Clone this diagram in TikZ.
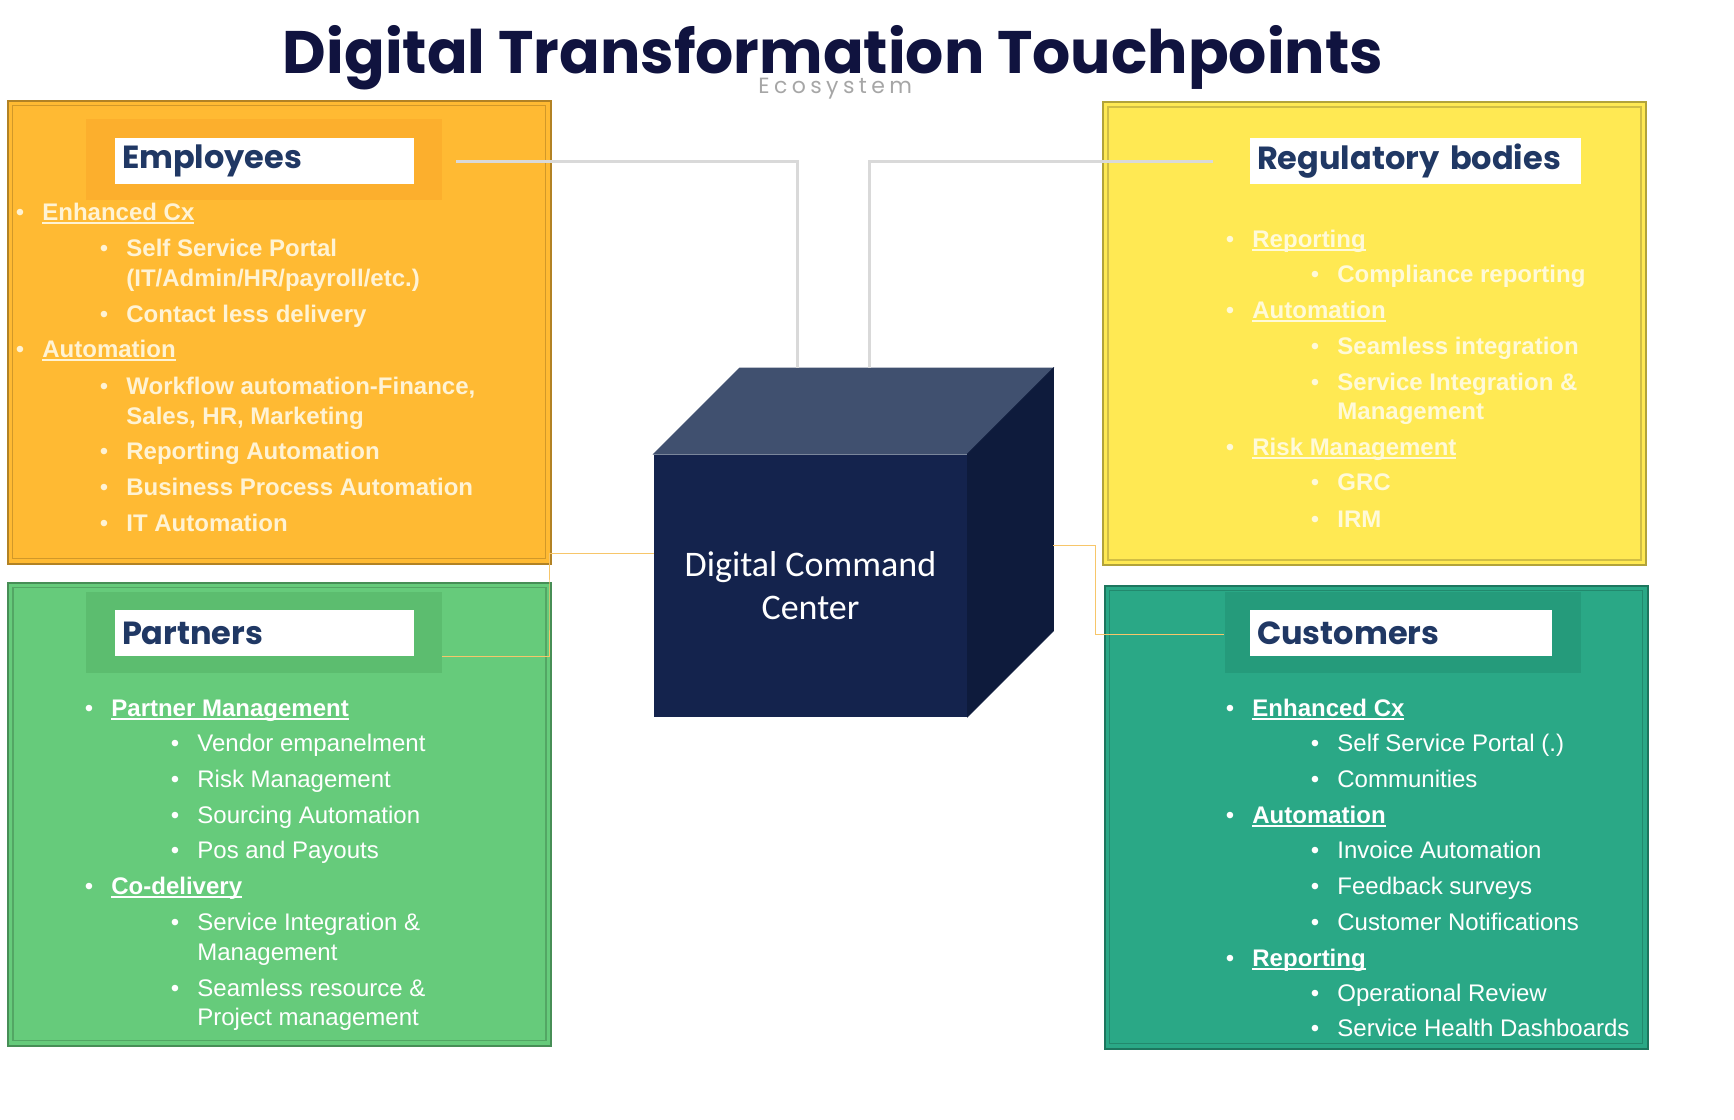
\documentclass[tikz,border=0pt]{standalone}
\usepackage{fontspec}
\usepackage{tikz}
\usetikzlibrary{positioning,calc}
\newfontfamily\popfont{Poppins}
\newfontfamily\ecofont[LetterSpace=20]{Poppins}
\newfontfamily\arialfont{Liberation Sans}
\newfontfamily\calfont{Carlito}

\definecolor{titlenavy}{HTML}{10133F}
\definecolor{ecogrey}{HTML}{A6A6A6}
\definecolor{labelnavy}{HTML}{203864}
\definecolor{empfill}{HTML}{FFBA33}
\definecolor{empband}{HTML}{FCAF2D}
\definecolor{empink}{HTML}{FFF3D4}
\definecolor{regfill}{HTML}{FFE953}
\definecolor{regink}{HTML}{FFFAD8}
\definecolor{partfill}{HTML}{66CB7B}
\definecolor{partband}{HTML}{5CBD6F}
\definecolor{custfill}{HTML}{2AA886}
\definecolor{custband}{HTML}{259B7B}
\definecolor{cubefront}{HTML}{14234D}
\definecolor{cubetop}{HTML}{40506F}
\definecolor{cubeside}{HTML}{0E1B3C}
\definecolor{linkgrey}{HTML}{D9D9D9}
\definecolor{linkgold}{HTML}{F7C66A}

\newcommand{\ulbox}[1]{\setbox0=\hbox{#1}\rlap{\rule[-2pt]{\wd0}{0.8pt}}\box0}

% one bulleted list: prefix, level-1 bullet x, level-2 bullet x, sub-item weight, ink, items
\newcommand{\pointlist}[6]{%
  \foreach \lv/\yy/\txt [count=\n] in {#6}{%
    \ifnum\lv=1
      \node[bul, text=#5] (#1-b\n) at (#2,\yy) {\textbullet};
      \node[point, text=#5, font=\arialfont\bfseries\fontsize{12}{12}\selectfont] (#1-t\n) at (#2+22,\yy) {\ulbox{\txt}};
    \fi
    \ifnum\lv=2
      \node[bul, text=#5] (#1-b\n) at (#3,\yy) {\textbullet};
      \node[point, text=#5, font=\arialfont#4\fontsize{12}{12}\selectfont] (#1-t\n) at (#3+22,\yy) {\txt};
    \fi
    \ifnum\lv=0
      \node[point, text=#5, font=\arialfont#4\fontsize{12}{12}\selectfont] (#1-t\n) at (#3+22,\yy) {\txt};
    \fi
  }}

\tikzset{
  panel/.style={fill=#1, draw=#1!70!black, line width=1pt, inner sep=0,
    minimum width=271.5pt, minimum height=231.5pt},
  bevel/.style={draw=black, draw opacity=0.18, line width=0.6pt},
  band/.style={fill=#1, inner sep=0, minimum width=178pt, minimum height=40.5pt},
  labelbox/.style={fill=white, text=labelnavy, inner xsep=3.5pt, inner ysep=0,
    minimum height=23pt, align=left, font=\popfont\bfseries\fontsize{16}{16}\selectfont},
  bul/.style={anchor=base, inner sep=0, font=\arialfont\fontsize{12}{12}\selectfont},
  point/.style={anchor=base west, inner sep=0},
  cubeface/.style={fill=cubefront, inner sep=0, minimum width=156.5pt, minimum height=131pt,
    align=center, text=white, font=\calfont\fontsize{18}{21.5}\selectfont},
  greyline/.style={draw=linkgrey, line width=1.5pt},
  thinline/.style={draw=linkgold, line width=0.5pt}
}

\begin{document}
\begin{tikzpicture}[x=0.5pt, y=-0.5pt]
  \useasboundingbox (0,0) rectangle (1734,1119);

  % heading
  \node[anchor=base, inner sep=0, text=titlenavy, font=\popfont\bfseries\fontsize{30}{30}\selectfont]
    (title) at (833,73) {Digital Transformation Touchpoints};
  \node[anchor=base west, inner sep=0, text=ecogrey, font=\ecofont\fontsize{11}{11}\selectfont]
    (eco) at (758,93) {Ecosystem};

  % the four touchpoint panels
  \node[panel=empfill] (emp) at (279,332) {};
  \node[panel=regfill] (reg) at (1374.5,333.5) {};
  \node[panel=partfill] (part) at (279.5,814) {};
  \node[panel=custfill] (cust) at (1376,817) {};
  \foreach \p in {emp,reg,part,cust}
    \draw[bevel] ($(\p.north west)+(6,6)$) rectangle ($(\p.south east)+(-6,-6)$);

  \node[band=empband] (emp-band) at (264,159.5) {};
  \node[band=partband] (part-band) at (264,632) {};
  \node[band=custband] (cust-band) at (1402.5,632) {};

  \node[labelbox, text width=142.5pt] (emp-label) at (264.5,161) {Employees};
  \node[labelbox, text width=158.5pt] (reg-label) at (1415.5,161) {\mbox{Regulatory bodies}};
  \node[labelbox, text width=142.5pt] (part-label) at (264.5,633) {Partners};
  \node[labelbox, text width=144pt] (cust-label) at (1401,633) {Customers};

  % lists
  \pointlist{emp}{20}{104}{\bfseries}{empink}{1/220/Enhanced Cx, 2/256/Self Service Portal,
    0/286/{(IT/Admin/HR/payroll/etc.)}, 2/322/Contact less delivery, 1/357/Automation,
    2/394/{Workflow automation-Finance,}, 0/424/{Sales, HR, Marketing}, 2/459/Reporting Automation,
    2/495/Business Process Automation, 2/531/IT Automation}
  \pointlist{reg}{1230}{1315}{\bfseries}{regink}{1/247/Reporting, 2/282/Compliance reporting,
    1/318/Automation, 2/354/Seamless integration, 2/390/{Service Integration \&}, 0/419/Management,
    1/455/Risk Management, 2/490/GRC, 2/527/IRM}
  \pointlist{part}{89}{175}{\mdseries}{white}{1/716/Partner Management, 2/751/Vendor empanelment,
    2/787/Risk Management, 2/823/Sourcing Automation, 2/858/Pos and Payouts, 1/894/Co-delivery,
    2/930/{Service Integration \&}, 0/960/Management, 2/996/{Seamless resource \&},
    0/1025/Project management}
  \pointlist{cust}{1230}{1315}{\mdseries}{white}{1/716/Enhanced Cx, 2/751/{Self Service Portal (.)},
    2/787/Communities, 1/823/Automation, 2/858/Invoice Automation, 2/894/Feedback surveys,
    2/930/Customer Notifications, 1/966/Reporting, 2/1001/Operational Review,
    2/1036/Service Health Dashboards}

  % command center cube
  \node[cubeface] (cube) at (810.5,585.5) {Digital Command\\Center};
  \filldraw[cubetop, line width=0.4pt] (cube.north west) -- ++(86,-86) -- ($(cube.north east)+(86,-86)$)
    -- (cube.north east) -- cycle;
  \filldraw[cubeside, line width=0.4pt] (cube.north east) -- ++(86,-86) -- ($(cube.south east)+(86,-86)$)
    -- (cube.south east) -- cycle;

  % connectors
  \coordinate (emp-tap) at (456,161.5);
  \coordinate (reg-tap) at (1213,161.5);
  \coordinate (cube-top-l) at ($(cube.north west)+(144,-86)$);
  \coordinate (cube-top-r) at ($(cube.north west)+(216,-86)$);
  \draw[greyline] (emp-tap) -| (cube-top-l);
  \draw[greyline] (reg-tap) -| (cube-top-r);

  \coordinate (cube-l) at ($(cube.west)+(0,-32)$);
  \coordinate (bend-l) at (549,605);
  \coordinate (part-tap) at ($(part-band.east)+(0,24)$);
  \draw[thinline] (cube-l) -| (bend-l) |- (part-tap);
  \coordinate (cube-r) at ($(cube.east)+(86,-40)$);
  \coordinate (bend-r) at (1095,590);
  \coordinate (cust-tap) at ($(cust-band.west)+(0,2)$);
  \draw[thinline] (cube-r) -| (bend-r) |- (cust-tap);
\end{tikzpicture}
\end{document}
